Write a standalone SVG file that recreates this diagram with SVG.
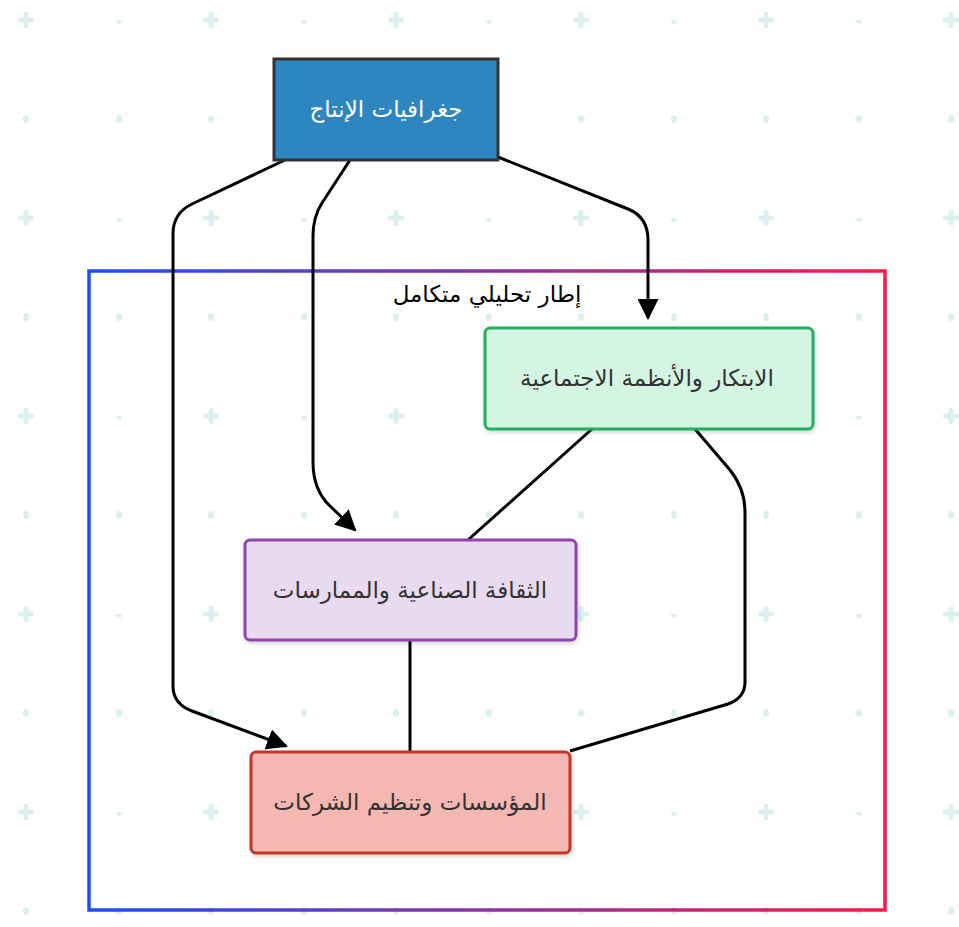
<svg xmlns="http://www.w3.org/2000/svg" width="959" height="927" viewBox="0 0 959 927">
  <defs>
    <pattern id="bgGrid" x="26" y="20" width="185" height="198" patternUnits="userSpaceOnUse">
      <g fill="#dcf0f2">
        <rect x="-2.5" y="-8" width="5" height="16" rx="2"/>
        <rect x="-8" y="-2.5" width="16" height="5" rx="2"/>
        <rect x="182.5" y="-8" width="5" height="16" rx="2"/>
        <rect x="177" y="-2.5" width="16" height="5" rx="2"/>
        <rect x="-2.5" y="190" width="5" height="16" rx="2"/>
        <rect x="-8" y="195.5" width="16" height="5" rx="2"/>
        <rect x="182.5" y="190" width="5" height="16" rx="2"/>
        <rect x="177" y="195.5" width="16" height="5" rx="2"/>
        <ellipse cx="93" cy="0" rx="3" ry="4"/>
        <ellipse cx="0" cy="99" rx="3" ry="4"/>
        <ellipse cx="93" cy="99" rx="3" ry="4"/>
        <ellipse cx="185" cy="99" rx="3" ry="4"/>
      </g>
    </pattern>
    <linearGradient id="clusterStroke" x1="0" y1="0" x2="1" y2="0">
      <stop offset="0" stop-color="#1a4dff"/>
      <stop offset="1" stop-color="#ff1648"/>
    </linearGradient>
    <filter id="shadow" x="-10%" y="-10%" width="130%" height="140%">
      <feDropShadow dx="1" dy="2" stdDeviation="2" flood-color="#000" flood-opacity="0.18"/>
    </filter>
    <marker id="arrow" viewBox="0 0 10 10" refX="9" refY="5" markerWidth="7" markerHeight="7" markerUnits="strokeWidth" orient="auto">
      <path d="M0,0 L10,5 L0,10 Z" fill="#000"/>
    </marker>
    <style>
      .lbl { font-family: "DejaVu Sans", "Liberation Sans", "Noto Sans", sans-serif; font-size: 23px; text-anchor: middle; dominant-baseline: central; }
      .node rect { stroke-width: 3; filter: url(#shadow); }
      .edge { fill: none; stroke: #000; stroke-width: 3; stroke-linejoin: round; }
    </style>
  </defs>

  <!-- background -->
  <rect width="959" height="927" fill="#ffffff"/>
  <rect width="959" height="927" fill="url(#bgGrid)"/>

  <!-- cluster frame -->
  <g id="cluster">
    <rect x="89" y="271" width="796" height="639" fill="none" stroke="url(#clusterStroke)" stroke-width="3.5"/>
    <text class="lbl" x="487" y="294" fill="#000" font-size="24">إطار تحليلي متكامل</text>
  </g>

  <!-- connectors -->
  <g id="connectors">
    <path class="edge" d="M285,160 L192,204 Q173,213 173,234 L173,686 Q173,704 192,711 L286,746" marker-end="url(#arrow)"/>
    <path class="edge" d="M350,160 L322,203 Q313,217 313,236 L313,462 Q313,490 330,506 L355,530" marker-end="url(#arrow)"/>
    <path class="edge" d="M498,157 L628,209 Q648,217 648,240 L648,318" marker-end="url(#arrow)"/>
    <path class="edge" d="M592,429 L468,540"/>
    <path class="edge" d="M695,429 L730,470 Q745,489 745,512 L745,682 Q745,698 728,704 L570,751"/>
    <path class="edge" d="M410,640 L410,752"/>
  </g>

  <!-- nodes -->
  <g id="node-geographies" class="node">
    <rect x="274" y="59" width="224" height="101" fill="#2e86c1" stroke="#333333" style="filter:none"/>
    <text class="lbl" x="386" y="109" fill="#ffffff">جغرافيات الإنتاج</text>
  </g>
  <g id="node-innovation" class="node">
    <rect x="485" y="328" width="328" height="101" rx="5" fill="#d5f5e3" stroke="#27ae60"/>
    <text class="lbl" x="647" y="378" fill="#333333">الابتكار والأنظمة الاجتماعية</text>
  </g>
  <g id="node-culture" class="node">
    <rect x="245" y="540" width="331" height="100" rx="5" fill="#e8daef" stroke="#8e44ad"/>
    <text class="lbl" x="410" y="590" fill="#333333">الثقافة الصناعية والممارسات</text>
  </g>
  <g id="node-institutions" class="node">
    <rect x="251" y="752" width="319" height="101" rx="5" fill="#f5b7b1" stroke="#c0392b"/>
    <text class="lbl" x="410" y="802" fill="#333333">المؤسسات وتنظيم الشركات</text>
  </g>
</svg>
